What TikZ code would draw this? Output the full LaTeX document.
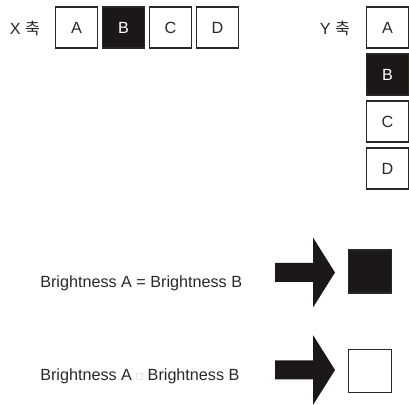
\documentclass[tikz,border=0pt]{standalone}
\usepackage{fontspec}
\setmainfont{Liberation Sans}
\newfontfamily\kofont{Noto Sans CJK KR}
\usepackage{xcolor}
\usetikzlibrary{positioning, calc}
\definecolor{inkgray}{RGB}{40,40,40}
\definecolor{boxblack}{RGB}{28,24,24}
\definecolor{glyphgray}{RGB}{200,200,200}

\begin{document}
\begin{tikzpicture}[x=0.025cm, y=-0.025cm,
    font=\fontsize{11.5}{14}\selectfont,
    cell/.style={draw=inkgray, line width=1pt, minimum width=1.05cm,
                 minimum height=1.03cm, inner sep=0pt, text=inkgray},
    dark/.style={cell, fill=boxblack, text=white},
    lbl/.style={inner sep=0pt, text=inkgray},
    result/.style={draw=inkgray, line width=1pt, minimum size=1.08cm, inner sep=0pt}]
  \useasboundingbox (0,0) rectangle (409,405);
  % ---- X axis: A B C D in a row ----
  \node[lbl] (xlab) at (25,28) {X {\kofont 축}};
  \foreach \n/\s [count=\i from 0] in {A/cell,B/dark,C/cell,D/cell}{
    \node[\s] (x\n) at (76.5+\i*47,27.5) {\n};
  }
  % ---- Y axis: A B C D in a column ----
  \node[lbl] (ylab) at (335,28) {Y {\kofont 축}};
  \foreach \n/\s [count=\i from 0] in {A/cell,B/dark,C/cell,D/cell}{
    \node[\s] (y\n) at (387.5,27.5+\i*47) {\n};
  }
  % ---- results: equal -> dark square, different -> white square ----
  \node[lbl, anchor=base west] (same) at (40,288) {Brightness A = Brightness B};
  \node[lbl, anchor=base west] (diff) at (40,381)
       {Brightness A {\color{glyphgray}\fontsize{8}{8}\selectfont □} Brightness B};
  \node[result, fill=boxblack] (outsame) at (370,271.5) {};
  \node[result] (outdiff) at (370,371) {};
  % block arrows (tail coordinate, then outline)
  \foreach \t/\cy in {same/272.5,diff/370}{
    \coordinate (arr\t) at (275,\cy);
    \fill[boxblack] (arr\t) ++(0,-9.5) -- ++(38,0) -- ++(0,-25.5)
      -- ++(22,35) -- ++(-22,35) -- ++(0,-25.5) -- ++(-38,0) -- cycle;
  }
\end{tikzpicture}
\end{document}
